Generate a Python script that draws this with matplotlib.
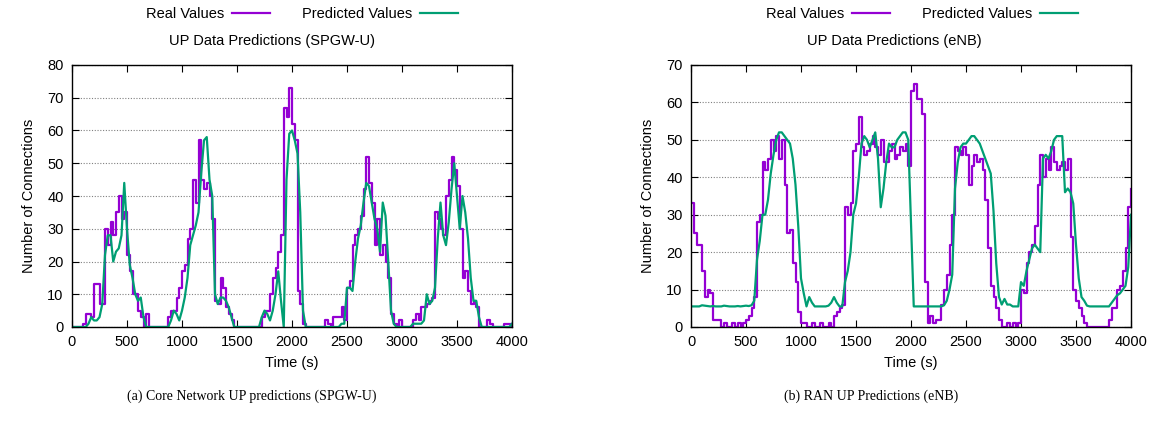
import numpy as np
import matplotlib
matplotlib.use("Agg")
import matplotlib.pyplot as plt

plt.rcParams.update({
    'font.family': 'Liberation Sans',
    'font.size': 10.5,
    'axes.linewidth': 1.0,
    'xtick.direction': 'in',
    'ytick.direction': 'in',
    'xtick.top': True,
    'ytick.right': True,
    'xtick.major.size': 5,
    'ytick.major.size': 5,
})

COLOR_REAL = '#9400D3'
COLOR_PRED = '#009E73'

# sample times (s), one value every 25 s
time_s = np.arange(0, 4001, 25)

# Core network (SPGW-U)
spgw_real = [
    0, 0, 0, 0, 1, 4, 4, 3,
    13, 13, 7, 7, 30, 25, 32, 28,
    35, 40, 33, 35, 22, 17, 10, 10,
    5, 3, 0, 4, 0, 0, 0, 0,
    0, 0, 0, 3, 5, 5, 9, 12,
    17, 19, 27, 30, 45, 38, 57, 45,
    42, 44, 40, 33, 8, 7, 15, 12,
    6, 4, 2, 0, 0, 0, 0, 0,
    0, 0, 0, 0, 0, 3, 5, 5,
    10, 15, 18, 23, 28, 67, 64, 73,
    62, 57, 11, 7, 1, 0, 0, 0,
    0, 0, 0, 0, 2, 1, 0, 3,
    3, 3, 6, 2, 12, 14, 25, 28,
    30, 34, 42, 52, 44, 38, 25, 33,
    22, 25, 20, 15, 4, 1, 0, 2,
    0, 0, 0, 0, 2, 4, 2, 6,
    6, 7, 8, 9, 35, 33, 30, 28,
    40, 45, 52, 48, 43, 30, 15, 17,
    11, 7, 8, 6, 0, 0, 0, 2,
    1, 0, 0, 0, 0, 1, 1, 1,
    0,
]
spgw_pred = [
    0, 0, 0, 0, 0, 0, 1, 3,
    2, 2, 3, 7, 22, 28, 28, 20,
    23, 24, 28, 44, 30, 19, 15, 10,
    8, 9, 3, 0, 0, 0, 0, 0,
    0, 0, 0, 0, 2, 5, 4, 2,
    5, 9, 15, 25, 28, 31, 35, 47,
    57, 58, 45, 40, 10, 7, 9, 9,
    8, 6, 3, 0, 0, 0, 0, 0,
    0, 0, 0, 0, 0, 3, 5, 4,
    2, 5, 10, 17, 8, 0, 45, 59,
    60, 57, 53, 35, 5, 0, 0, 0,
    0, 0, 0, 0, 0, 0, 0, 0,
    0, 0, 1, 1, 12, 12, 11, 20,
    27, 31, 38, 44, 43, 38, 33, 30,
    23, 38, 34, 20, 5, 1, 0, 0,
    0, 0, 0, 0, 1, 1, 1, 1,
    2, 10, 7, 8, 12, 27, 38, 28,
    25, 32, 42, 50, 40, 30, 40, 35,
    27, 15, 8, 8, 3, 0, 0, 0,
    0, 0, 0, 0, 0, 0, 0, 0,
    1,
]

# RAN (eNB)
enb_real = [
    33, 25, 22, 22, 15, 8, 10, 9,
    2, 2, 2, 0, 1, 0, 0, 1,
    0, 1, 0, 1, 2, 3, 5, 8,
    28, 30, 44, 42, 45, 50, 47, 51,
    45, 50, 38, 25, 26, 17, 12, 4,
    1, 1, 0, 0, 1, 0, 0, 1,
    0, 0, 1, 0, 3, 4, 5, 6,
    32, 30, 33, 47, 49, 56, 48, 46,
    47, 49, 51, 48, 46, 50, 44, 44,
    47, 49, 45, 46, 48, 47, 49, 43,
    63, 65, 61, 61, 57, 12, 1, 3,
    1, 2, 2, 6, 10, 14, 22, 30,
    48, 47, 46, 48, 46, 38, 43, 46,
    44, 45, 42, 34, 21, 11, 8, 5,
    2, 0, 0, 1, 0, 1, 0, 1,
    10, 9, 17, 20, 22, 27, 38, 46,
    40, 45, 42, 48, 44, 42, 43, 44,
    42, 45, 24, 10, 7, 5, 3, 1,
    0, 0, 0, 0, 0, 0, 0, 0,
    2, 5, 5, 10, 11, 15, 21, 32,
    37,
]
enb_pred = [
    5.5, 5.5, 5.5, 5.5, 5.8, 5.7, 5.6, 5.5,
    5.6, 5.5, 5.5, 5.5, 5.7, 5.6, 5.5, 5.5,
    5.5, 5.6, 5.5, 5.6, 5.7, 5.6, 5.8, 7,
    18, 23, 30, 30, 34, 41, 46, 50,
    52, 52, 51, 50, 49, 45, 38, 27,
    13, 9, 5.5, 8, 6.5, 5.5, 5.5, 5.5,
    5.5, 5.5, 5.7, 6.5, 8, 6.5, 5.5, 5.5,
    12, 15, 20, 30, 33, 40, 49, 51,
    50, 48, 50, 52, 45, 32, 37, 44,
    49, 48, 48, 50, 51, 52, 52, 50,
    28, 5.5, 5.5, 5.5, 5.5, 5.5, 5.5, 5.5,
    5.5, 5.5, 5.5, 5.5, 5.8, 7, 10, 14,
    37, 44, 48, 49, 49, 50, 51, 51,
    50, 49, 47, 45, 43, 41, 31, 17,
    8, 6, 7.5, 6, 6, 5.5, 5.5, 5.5,
    12, 11, 15, 18, 21, 22, 21, 20,
    45, 46, 45, 47, 50, 51, 51, 51,
    36, 37, 36, 33, 22, 13, 8, 7,
    5.7, 5.5, 5.5, 5.5, 5.5, 5.5, 5.5, 5.5,
    5.5, 6.5, 7.5, 8.5, 9, 10, 11, 16,
    30,
]

W, H = 1156, 424


def fx(px):
    return px / W


def fy(py):
    return 1 - py / H


def draw_panel(fig, left_px, real, pred, ymax, title, caption, leg_cx, title_cx):
    ax = fig.add_axes([fx(left_px), fy(327), fx(440), 262 / H])
    ax.plot(time_s, real, color=COLOR_REAL, lw=1.6, drawstyle='steps-post',
            label='Real Values')
    ax.plot(time_s, pred, color=COLOR_PRED, lw=1.6, label='Predicted Values')
    ax.set_xlim(0, 4000)
    ax.set_ylim(0, ymax)
    ax.set_xticks(np.arange(0, 4001, 500))
    ax.set_yticks(np.arange(0, ymax + 1, 10))
    ax.yaxis.grid(True, linestyle=(0, (1, 1.5)), color='#808080', lw=0.8)
    ax.set_axisbelow(True)
    ax.tick_params(pad=6)
    ax.set_xlabel('Time (s)', labelpad=5)
    ax.set_ylabel('Number of Connections', labelpad=8)
    ax.legend(loc='center', bbox_to_anchor=(fx(leg_cx), fy(14)),
              bbox_transform=fig.transFigure, ncol=2, markerfirst=False,
              frameon=False, handlelength=2.6, columnspacing=2.2,
              handletextpad=0.5, borderaxespad=0)
    fig.text(fx(title_cx), fy(41), title, ha='center', va='center')
    fig.text(fx(left_px + 180), fy(396), caption, ha='center', va='center',
             family='Liberation Serif', fontsize=10)
    return ax


fig = plt.figure(figsize=(W / 100, H / 100), dpi=100)
draw_panel(fig, 72, spgw_real, spgw_pred, 80, 'UP Data Predictions (SPGW-U)',
           '(a) Core Network UP predictions (SPGW-U)', 302, 272)
draw_panel(fig, 691, enb_real, enb_pred, 70, 'UP Data Predictions (eNB)',
           '(b) RAN UP Predictions (eNB)', 922, 894)

fig.savefig('out.png', dpi=100)
